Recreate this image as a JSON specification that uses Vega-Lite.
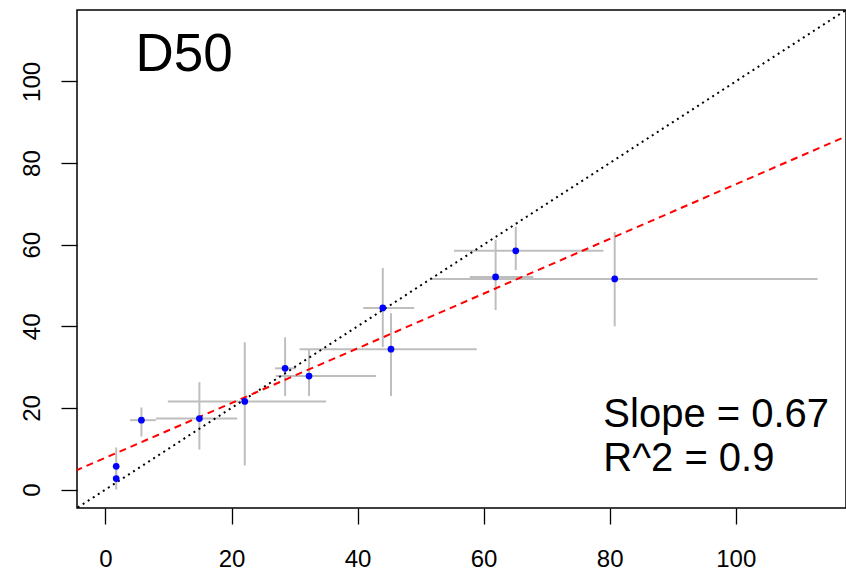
{
  "$schema": "https://vega.github.io/schema/vega-lite/v6.json",
  "width": 769,
  "height": 498,
  "autosize": {"type": "none"},
  "padding": {"left": 77, "top": 10, "right": 0, "bottom": 62},
  "background": "white",
  "config": {
    "view": {"stroke": "black", "strokeWidth": 1.5},
    "axis": {"grid": false, "domain": false, "tickColor": "black", "tickSize": 16, "tickWidth": 1.3,
             "labelFont": "Liberation Sans", "labelFontSize": 24, "labelColor": "black", "title": null}
  },
  "datasets": {
    "pts": [
      {"x": 1.7, "y": 5.7, "xlo": 1.7, "xhi": 1.7, "ylo": 1.5, "yhi": 10.3},
      {"x": 1.7, "y": 2.7, "xlo": 1.7, "xhi": 1.7, "ylo": 0.0, "yhi": 6.0},
      {"x": 5.7, "y": 17.0, "xlo": 3.9, "xhi": 8.0, "ylo": 13.0, "yhi": 20.1},
      {"x": 14.9, "y": 17.4, "xlo": 8.0, "xhi": 20.9, "ylo": 9.8, "yhi": 26.3},
      {"x": 22.1, "y": 21.6, "xlo": 9.9, "xhi": 35.0, "ylo": 5.9, "yhi": 36.1},
      {"x": 28.5, "y": 29.7, "xlo": 26.9, "xhi": 30.2, "ylo": 22.9, "yhi": 37.3},
      {"x": 32.3, "y": 27.8, "xlo": 27.0, "xhi": 42.9, "ylo": 22.9, "yhi": 34.2},
      {"x": 45.3, "y": 34.4, "xlo": 30.8, "xhi": 58.9, "ylo": 22.9, "yhi": 43.2},
      {"x": 44.0, "y": 44.5, "xlo": 40.9, "xhi": 49.0, "ylo": 34.9, "yhi": 54.3},
      {"x": 65.1, "y": 58.5, "xlo": 55.3, "xhi": 79.0, "ylo": 53.8, "yhi": 64.4},
      {"x": 61.9, "y": 52.1, "xlo": 57.8, "xhi": 67.9, "ylo": 44.0, "yhi": 61.2},
      {"x": 80.8, "y": 51.6, "xlo": 51.5, "xhi": 113.0, "ylo": 40.0, "yhi": 63.1}
    ],
    "diag": [{"x": -10, "y": -10}, {"x": 130, "y": 130}],
    "fit": [{"x": -10, "y": 1.1}, {"x": 130, "y": 94.9}],
    "labels": [
      {"x": 4.76, "y": 102.5, "text": "D50", "size": 53},
      {"x": 79.0, "y": 15.3, "text": "Slope = 0.67", "size": 40},
      {"x": 79.0, "y": 4.5, "text": "R^2 = 0.9", "size": 40}
    ]
  },
  "layer": [
    {
      "data": {"name": "pts"},
      "mark": {"type": "rule", "color": "#BEBEBE", "strokeWidth": 2},
      "encoding": {
        "x": {"field": "x", "type": "quantitative",
              "scale": {"domain": [-4.52, 117.5], "nice": false, "zero": false},
              "axis": {"values": [0, 20, 40, 60, 80, 100], "labelBaseline": "alphabetic", "labelPadding": 42}},
        "y": {"field": "ylo", "type": "quantitative",
              "scale": {"domain": [-4.52, 117.5], "nice": false, "zero": false},
              "axis": {"values": [0, 20, 40, 60, 80, 100], "labelAngle": 270, "labelAlign": "center", "labelBaseline": "alphabetic", "labelPadding": 22}},
        "y2": {"field": "yhi"}
      }
    },
    {
      "data": {"name": "pts"},
      "mark": {"type": "rule", "color": "#BEBEBE", "strokeWidth": 2},
      "encoding": {
        "x": {"field": "xlo", "type": "quantitative"},
        "x2": {"field": "xhi"},
        "y": {"field": "y", "type": "quantitative"}
      }
    },
    {
      "data": {"name": "diag"},
      "mark": {"type": "line", "color": "black", "strokeWidth": 2, "strokeDash": [2, 4], "clip": true},
      "encoding": {
        "x": {"field": "x", "type": "quantitative"},
        "y": {"field": "y", "type": "quantitative"}
      }
    },
    {
      "data": {"name": "fit"},
      "mark": {"type": "line", "color": "#FF0000", "strokeWidth": 2, "strokeDash": [7, 5], "clip": true},
      "encoding": {
        "x": {"field": "x", "type": "quantitative"},
        "y": {"field": "y", "type": "quantitative"}
      }
    },
    {
      "data": {"name": "pts"},
      "mark": {"type": "circle", "color": "#0000FF", "opacity": 1, "size": 45},
      "encoding": {
        "x": {"field": "x", "type": "quantitative"},
        "y": {"field": "y", "type": "quantitative"}
      }
    },
    {
      "data": {"name": "labels"},
      "mark": {"type": "text", "align": "left", "baseline": "alphabetic", "font": "Liberation Sans", "color": "black"},
      "encoding": {
        "x": {"field": "x", "type": "quantitative"},
        "y": {"field": "y", "type": "quantitative"},
        "text": {"field": "text"},
        "size": {"field": "size", "type": "quantitative", "scale": null, "legend": null}
      }
    }
  ]
}
